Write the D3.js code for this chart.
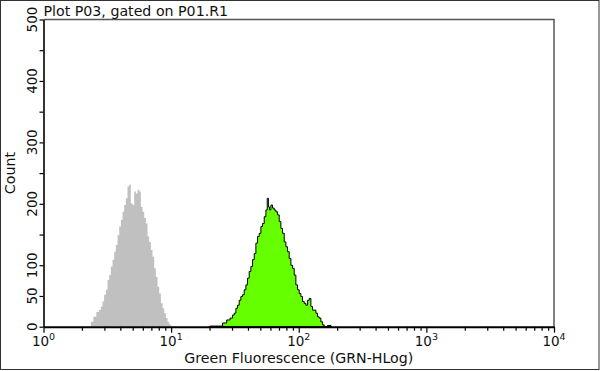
<!DOCTYPE html>
<html>
<head>
<meta charset="utf-8">
<script src="https://cdn.jsdelivr.net/npm/d3@7/dist/d3.min.js"></script>
<style>
  body { margin: 0; background: #fff; }
  svg { display: block; }
  text { font-family: "DejaVu Sans", Verdana, sans-serif; fill: #111; }
</style>
</head>
<body>
<div id="chart"></div>
<script>
// fluorescence (GRN-HLog) bin positions and event counts
var grayValues = [2.31, 2.39, 2.53, 2.66, 2.77, 2.86, 2.94, 3.03, 3.13, 3.22, 3.32, 3.42, 3.53, 3.63, 3.75, 3.86,
  3.98, 4.10, 4.22, 4.35, 4.49, 4.62, 4.76, 4.91, 5.06, 5.21, 5.37, 5.54, 5.71, 5.88, 6.06, 6.25,
  6.44, 6.63, 6.83, 7.04, 7.26, 7.48, 7.71, 7.94, 8.19, 8.44, 8.69, 8.96, 9.23, 9.51, 9.80, 10.10];
var grayCounts = [0, 8, 16, 24, 27, 33, 41, 52, 60, 76, 84, 98, 109, 122, 133, 149,
  163, 174, 187, 198, 209, 228, 231, 201, 198, 220, 217, 223, 220, 195, 187, 177,
  168, 147, 138, 125, 114, 95, 81, 65, 54, 38, 30, 22, 14, 8, 4, 0];

var greenValues = [20.0, 20.4, 24.2, 26.45, 28.09, 29.83, 30.74, 31.68, 32.65, 33.64, 34.67, 35.73, 36.82, 37.95,
  39.11, 40.30, 41.53, 42.80, 44.11, 45.46, 46.85, 48.28, 49.76, 51.28, 52.84, 54.46, 56.12, 57.14,
  58.53, 59.6, 61.4, 63.3, 65.2, 67.2, 69.2, 71.4, 73.5, 75.8, 78.1, 80.5, 82.9, 85.5, 88.1, 90.8,
  93.5, 96.4, 99.3, 102.4, 105.5, 108.7, 112.0, 115.5, 119.0, 122.6, 126.4, 130.2, 134.2, 138.3,
  142.5, 146.9, 151.4, 156.0, 160.7, 166, 170, 176, 182];
var greenCounts = [0, 1, 1, 6, 11, 14, 19, 22, 30, 35, 43, 49, 52, 60,
  68, 79, 90, 98, 109, 119, 136, 147, 152, 163, 168, 179, 190, 209,
  195, 190, 198, 193, 190, 187, 182, 171, 160, 152, 138, 130, 122, 111, 100, 95,
  84, 68, 60, 54, 49, 41, 38, 35, 43, 46, 33, 27, 27, 22,
  16, 14, 8, 3, 0, 0, 2, 2, 0];

var xDecades = [1, 10, 100, 1000, 10000];
var xDecadeLabels = ['0', '1', '2', '3', '4'];
var yTicks = [0, 50, 100, 150, 200, 250, 300, 350, 400, 450, 500];
var yLabels = [0, 50, 100, 200, 300, 400, 500];

var titleText = 'Plot P03, gated on P01.R1';
var xTitle = 'Green Fluorescence (GRN-HLog)';
var yTitle = 'Count';

(function(){
  var W = 600, H = 371;
  var box = { left: 43.5, top: 19.5, right: 554, bottom: 326.7 };

  var svg = d3.select('#chart').append('svg').attr('width', W).attr('height', H);

  var x = d3.scaleLog().domain([1, 10000]).range([box.left, box.right]);
  var y = d3.scaleLinear().domain([0, 500]).range([box.bottom, box.top]);

  function pairs(vals, counts) {
    return vals.map(function(v, i){ return [v, counts[i]]; });
  }

  var area = d3.area()
    .x(function(d){ return x(d[0]); })
    .y0(y(0))
    .y1(function(d){ return y(d[1]); })
    .curve(d3.curveStep);

  svg.append('path').datum(pairs(grayValues, grayCounts))
    .attr('d', area).attr('fill', '#c0c0c0');

  svg.append('path').datum(pairs(greenValues, greenCounts))
    .attr('d', area).attr('fill', '#66ff00')
    .attr('stroke', '#000').attr('stroke-width', 1).attr('stroke-linejoin', 'miter');

  // frame on top/right
  svg.append('path')
    .attr('d', 'M' + box.left + ',' + box.top + 'H' + box.right + 'V' + box.bottom)
    .attr('fill', 'none').attr('stroke', '#555').attr('stroke-width', 1.5);

  // x axis: minor ticks 2..9 per decade, longer ticks at decades
  var minor = [];
  xDecades.slice(0, -1).forEach(function(d){
    for (var k = 2; k <= 9; k++) minor.push(d * k);
  });

  var gx = svg.append('g').attr('transform', 'translate(0,' + box.bottom + ')');
  gx.call(d3.axisBottom(x).tickValues(minor).tickSize(4).tickSizeOuter(0).tickFormat(''));
  gx.call(function(g){ g.select('.domain').remove(); });
  var gx2 = svg.append('g').attr('transform', 'translate(0,' + box.bottom + ')');
  gx2.call(d3.axisBottom(x).tickValues(xDecades).tickSize(6).tickSizeOuter(0).tickFormat(''));
  gx2.select('.domain').attr('stroke-width', 2).attr('stroke', '#000');
  svg.selectAll('.tick line').attr('stroke', '#000').attr('stroke-width', 1.2);

  var xl = svg.append('g').selectAll('text').data(xDecades).enter().append('text')
    .attr('x', function(d){ return x(d); })
    .attr('y', 345.5)
    .attr('text-anchor', 'middle')
    .style('font-size', '13.5px');
  xl.append('tspan').text('10');
  xl.append('tspan').attr('dy', -6).style('font-size', '9.5px')
    .text(function(d, i){ return xDecadeLabels[i]; });

  // y axis
  var gy = svg.append('g').attr('transform', 'translate(' + box.left + ',0)');
  gy.call(d3.axisLeft(y).tickValues(yTicks).tickSize(4).tickSizeOuter(0).tickFormat(''));
  gy.select('.domain').attr('stroke-width', 1.6).attr('stroke', '#000');
  gy.selectAll('.tick line').attr('stroke', '#000').attr('stroke-width', 1.2);

  svg.append('g').selectAll('text').data(yLabels).enter().append('text')
    .attr('transform', function(d){ return 'translate(37,' + y(d) + ') rotate(-90)'; })
    .attr('text-anchor', 'middle')
    .style('font-size', '13.5px')
    .text(function(d){ return d; });

  // titles
  svg.append('text').attr('x', box.left).attr('y', 15.5)
    .style('font-size', '14.2px').text(titleText);

  svg.append('text').attr('x', (box.left + box.right) / 2).attr('y', 363)
    .attr('text-anchor', 'middle').style('font-size', '14.2px').text(xTitle);

  svg.append('text')
    .attr('transform', 'translate(15,' + ((box.top + box.bottom) / 2) + ') rotate(-90)')
    .attr('text-anchor', 'middle').style('font-size', '14.2px').text(yTitle);

  // outer border
  svg.append('rect').attr('x', 0.5).attr('y', 0.5).attr('width', 598.5).attr('height', 369)
    .attr('fill', 'none').attr('stroke', '#333').attr('stroke-width', 1);
})();
</script>
</body>
</html>
